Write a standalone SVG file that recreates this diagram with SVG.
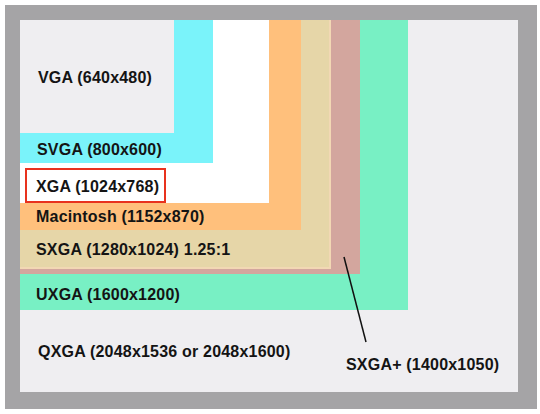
<svg xmlns="http://www.w3.org/2000/svg" width="540" height="414" viewBox="0 0 540 414">
  <style>
    .lbl { font-family: "Liberation Sans", Arial, sans-serif; font-weight: bold; font-size: 16px; letter-spacing: 0.2px; fill: #141414; }
  </style>
  <rect x="0" y="0" width="540" height="414" fill="#ffffff"/>
  <g id="frame">
    <rect x="5" y="5" width="532" height="404" fill="#a5a4a6"/>
  </g>
  <g id="qxga">
    <rect x="20" y="20" width="498" height="372" fill="#efeef1"/>
    <text class="lbl" x="38" y="357">QXGA (2048x1536 or 2048x1600)</text>
  </g>
  <g id="uxga">
    <rect x="20" y="20" width="388" height="290" fill="#78f0c4"/>
    <text class="lbl" x="36" y="300">UXGA (1600x1200)</text>
  </g>
  <g id="sxgaplus">
    <rect x="20" y="20" width="340" height="254" fill="#d3a69e"/>
    <text class="lbl" x="346" y="370">SXGA+ (1400x1050)</text>
  </g>
  <g id="sxga">
    <rect x="20" y="20" width="311" height="249" fill="#f2d8b4"/>
    <rect x="20" y="20" width="309" height="247" fill="#e6d6a8"/>
    <text class="lbl" x="36" y="255">SXGA (1280x1024) 1.25:1</text>
  </g>
  <g id="macintosh">
    <rect x="20" y="20" width="281" height="210" fill="#ffc07c"/>
    <text class="lbl" x="36" y="222">Macintosh (1152x870)</text>
  </g>
  <g id="xga">
    <rect x="20" y="20" width="249" height="183" fill="#ffffff"/>
  </g>
  <g id="svga">
    <rect x="20" y="20" width="193" height="143" fill="#7af3fa"/>
    <text class="lbl" x="37" y="155">SVGA (800x600)</text>
  </g>
  <g id="vga">
    <rect x="20" y="20" width="154" height="113" fill="#efeef1"/>
    <text class="lbl" x="38" y="83">VGA (640x480)</text>
  </g>
  <g id="xga-label">
    <rect x="26" y="169" width="139" height="33" fill="#ffffff" stroke="#e8321e" stroke-width="2"/>
    <text class="lbl" x="36" y="192">XGA (1024x768)</text>
  </g>
  <g id="connectors">
    <line x1="344" y1="257" x2="366" y2="342" stroke="#111111" stroke-width="1.5"/>
  </g>
</svg>
